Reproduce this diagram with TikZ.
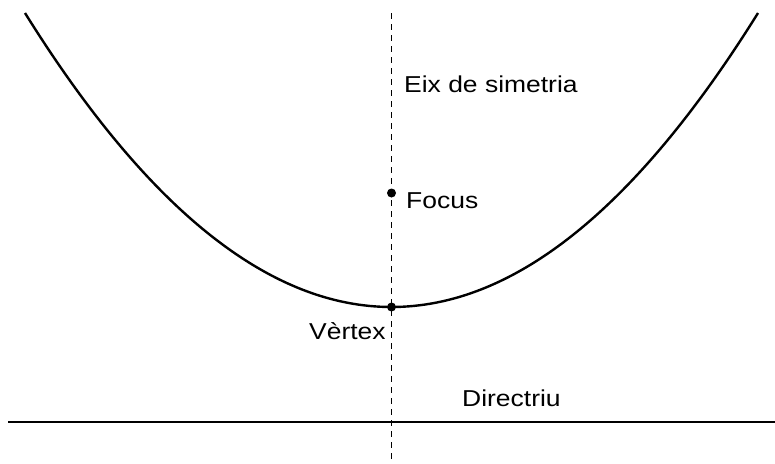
\documentclass[tikz,border=0pt]{standalone}
\usepackage{fontspec}
\newfontfamily\lab[FakeStretch=1.15]{Liberation Sans}
\begin{document}
\begin{tikzpicture}[x=1pt,y=-1pt,
  curve/.style={line width=2.4pt},
  axisline/.style={line width=1.6pt, dash pattern=on 6pt off 5pt},
  dirline/.style={line width=2pt},
  dot/.style={circle, fill=black, inner sep=0pt, minimum size=9pt},
  lbl/.style={font=\lab\fontsize{23}{27}\selectfont, inner sep=0pt, anchor=base west}]
\useasboundingbox (0,0) rectangle (775,463);
% key points
\coordinate (L) at (25,13);
\coordinate (R) at (758,13);
\coordinate (C1) at (269.33,405);
\coordinate (C2) at (513.67,405);
\coordinate (axtop) at (391.5,13);
\coordinate (axbot) at (391.5,460);
\coordinate (dl) at (8,421.5);
\coordinate (dr) at (775,421.5);
% axis
\draw[axisline] (axtop) -- (axbot);
% directrix
\draw[dirline] (dl) -- (dr);
% parabola
\draw[curve] (L) .. controls (C1) and (C2) .. (R);
% points
\node[dot] (vertex) at (391.5,307) {};
\node[dot] (focus) at (391.5,193) {};
% labels
\node[lbl] (eix) at (404,92) {Eix de simetria};
\node[lbl] (flab) at (406,208) {Focus};
\node[lbl] (vlab) at (309,339) {Vèrtex};
\node[lbl] (dlab) at (462,406) {Directriu};
\end{tikzpicture}
\end{document}
